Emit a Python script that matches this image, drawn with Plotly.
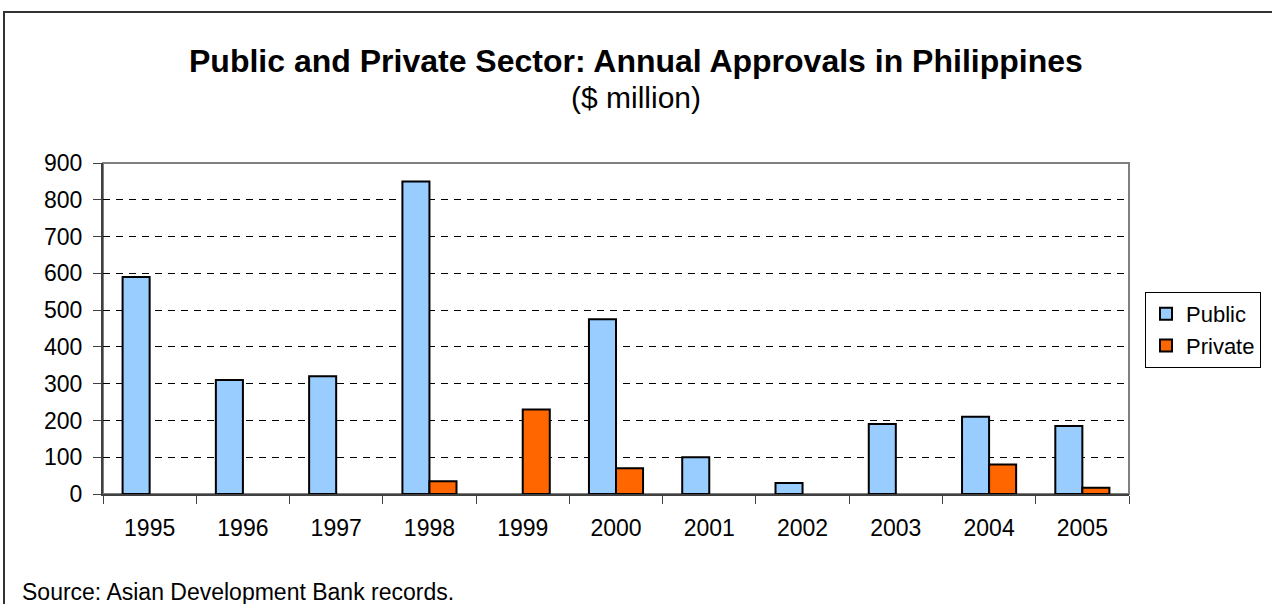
import plotly.graph_objects as go

years = ["1995", "1996", "1997", "1998", "1999", "2000", "2001", "2002", "2003", "2004", "2005"]
public = [590, 310, 320, 850, None, 475, 100, 30, 190, 210, 185]
private = [None, None, None, 35, 230, 70, None, None, None, 80, 17]

title_text = "Public and Private Sector: Annual Approvals in Philippines"
subtitle_text = "($ million)"
source_text = "Source: Asian Development Bank records."

FONT = "Liberation Sans, Arial, sans-serif"

L, R, T, B = 103, 143, 163, 110
W, H = 1272, 604
PW, PH = W - L - R, H - T - B


def px(x):
    return (x - L) / PW


def py(y):
    return (H - B - y) / PH


fig = go.Figure()
fig.add_trace(go.Bar(x=years, y=public, name="Public",
                     marker=dict(color="#99CCFF", line=dict(color="black", width=2))))
fig.add_trace(go.Bar(x=years, y=private, name="Private",
                     marker=dict(color="#FF6600", line=dict(color="black", width=2))))

fig.update_layout(
    width=W, height=H,
    margin=dict(l=L, r=R, t=T, b=B, pad=0, autoexpand=False),
    paper_bgcolor="white", plot_bgcolor="white",
    barmode="group", bargap=0.42, bargroupgap=0,
    font=dict(family=FONT, size=22, color="black"),
    showlegend=True,
    legend=dict(xref="container", yref="container",
                x=1145 / W, xanchor="left", y=1 - 292 / H, yanchor="top",
                bordercolor="black", borderwidth=1, bgcolor="white",
                font=dict(size=22), itemwidth=30, tracegroupgap=0),
    xaxis=dict(type="category", showgrid=False, showline=True, linecolor="#404040", linewidth=2,
               ticks="outside", ticklen=8, tickcolor="#404040", tickwidth=1, tickson="boundaries",
               tickfont=dict(size=23), ticklabelstandoff=12),
    yaxis=dict(range=[0, 900], dtick=100, showgrid=True, gridcolor="black", gridwidth=1,
               griddash="7px,6px", zeroline=False, showline=True, linecolor="#404040", linewidth=2,
               ticks="outside", ticklen=8, tickcolor="#404040", tickwidth=1,
               tickfont=dict(size=23), ticklabelstandoff=6),
    shapes=[
        dict(type="rect", xref="paper", yref="paper", x0=0, x1=1, y0=0, y1=1,
             line=dict(color="#808080", width=2), layer="below"),
        dict(type="rect", xref="paper", yref="paper", x0=px(4), x1=px(1290), y0=py(640), y1=py(12),
             line=dict(color="#333333", width=2), layer="above"),
    ],
    annotations=[
        dict(text="<b>" + title_text + "</b>", xref="paper", yref="paper", x=px(636), y=py(61),
             xanchor="center", yanchor="middle", showarrow=False, font=dict(size=32)),
        dict(text=subtitle_text, xref="paper", yref="paper", x=px(636), y=py(97),
             xanchor="center", yanchor="middle", showarrow=False, font=dict(size=30)),
        dict(text=source_text, xref="paper", yref="paper", x=px(20), y=py(592),
             xanchor="left", yanchor="middle", showarrow=False, font=dict(size=23)),
    ],
)

fig.write_html("out.html", config={"displayModeBar": False},
               post_script="document.body.style.margin='0';")
